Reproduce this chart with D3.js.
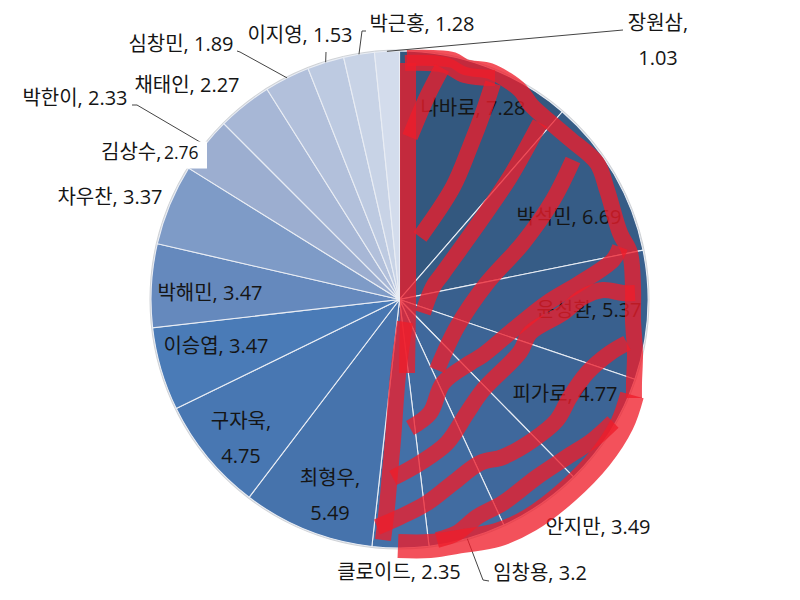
<!DOCTYPE html>
<html>
<head>
<meta charset="utf-8">
<script src="https://d3js.org/d3.v7.min.js"></script>
<style>
    html, body { margin: 0; background: #fff; }
    text { font-family: "Open Sans", "Noto Sans CJK KR", sans-serif; font-size: 20px; fill: #151515; }
</style>
</head>
<body>
<div id="chart"></div>
<script>
// Slices, clockwise from 12 o'clock
var names = ["나바로", "박석민", "윤성환", "피가로", "안지만", "임창용", "클로이드", "최형우", "구자욱",
    "이승엽", "박해민", "차우찬", "박한이", "채태인", "심창민", "이지영", "박근홍", "장원삼"];
var values = [7.28, 6.69, 5.37, 4.77, 3.49, 3.2, 2.35, 5.49, 4.75,
    3.47, 3.47, 3.37, 2.33, 2.27, 1.89, 1.53, 1.28, 1.03];

// Label that was pasted over the picture, it has no slice of its own
var pastedName = "김상수";
var pastedValue = 2.76;

var svgWidth = 800;
var svgHeight = 600;
var cx = 399.5;
var cy = 299.5;
var radius = 248.5;

// Label centres, same order as names. Labels in wrapped go on two lines
var labelSpots = [[473, 108], [569, 217], [589, 310], [565, 394], [598, 527], [540, 573], [399, 572], [330, 478], [241, 421],
    [216, 346], [210, 293], [110, 197], [75, 98], [187, 85], [181, 44], [300, 35], [422, 24], [658, 23]];
var wrapped = ["최형우", "구자욱", "장원삼"];
var lineGap = 35;

// Elbows of the leader lines, from the label end towards the slice
var leaders = {
    "임창용": [[489, 581], [483, 580]],
    "박한이": [[132, 105], [137, 105]],
    "심창민": [[237, 51], [240, 52]],
    "이지영": [[326, 52]],
    "박근홍": [[366, 31], [362, 31]],
    "장원삼": [[623, 30]]
};

// Hand drawn red marks over the right half of the picture
var scribbles = [
    [[407, 58], [433, 58], [453, 60], [465, 67], [490, 71], [507, 80], [520, 90], [532, 106], [550, 122], [570, 139], [597, 163], [607, 190], [620, 233], [630, 253], [633, 287], [633, 320], [635, 353], [634, 383], [634, 398]],
    [[405, 63], [445, 65], [465, 75], [495, 78]],
    [[408, 63], [408, 107], [408, 173], [408, 240], [408, 300], [407, 373]],
    [[405, 322], [398, 375], [393, 440], [390, 473], [387, 507], [383, 540]],
    [[442, 68], [427, 97], [410, 137]],
    [[493, 83], [483, 113], [470, 147], [453, 187], [420, 237]],
    [[540, 123], [510, 177], [483, 217], [443, 273], [433, 287], [423, 313]],
    [[573, 160], [553, 200], [523, 243], [487, 283], [457, 327], [437, 370]],
    [[620, 247], [613, 260], [580, 283], [547, 303], [513, 330], [483, 355], [470, 363], [443, 383], [430, 413], [410, 428]],
    [[635, 293], [623, 293], [603, 290], [583, 297], [563, 313], [530, 333], [520, 352], [483, 390], [467, 413], [447, 443], [420, 463], [393, 478]],
    [[627, 343], [610, 353], [587, 373], [570, 397], [557, 420], [533, 440], [503, 457], [480, 463], [453, 483], [427, 503], [400, 517], [377, 527]],
    [[613, 422], [593, 440], [567, 457], [537, 477], [503, 503], [477, 517], [457, 533], [437, 540]]
];
// The long lower arc is wider than the rest
var scribbleArc = [[632, 395], [622, 424], [600, 458], [567, 492], [530, 520], [497, 535], [463, 541], [430, 546], [398, 546]];

var svg = d3.select("#chart")
    .append("svg")
    .attr("width", svgWidth)
    .attr("height", svgHeight);

var chartGroup = svg.append("g")
    .attr("transform", `translate(${cx}, ${cy})`);

// Colour runs from navy through mid blue and then fades out
var colorScale = d3.scaleLinear()
    .domain([0, 4, 9, 10, 11, 12, 17])
    .range(["#33587f", "#3f689c", "#4a7bb7", "#6589bd", "#7e9bc7", "#9caed0", "#d3dcec"]);

var pie = d3.pie().sort(null).value(d => d)(values);
var arc = d3.arc().innerRadius(0).outerRadius(radius);
var rimArc = d3.arc().innerRadius(radius).outerRadius(radius);

// Soft grey rim
chartGroup.append("circle")
    .attr("r", radius + 0.5)
    .attr("fill", "none")
    .attr("stroke", "#cfd2d6")
    .attr("stroke-width", 2);

chartGroup.selectAll("path.slice")
    .data(pie)
    .enter()
    .append("path")
    .attr("class", "slice")
    .attr("d", arc)
    .attr("fill", (d, i) => colorScale(i))
    .attr("stroke", "#e9edf4")
    .attr("stroke-width", 1.1);

// Leader lines
var leaderLine = d3.line();
names.forEach(function (name, i) {
    if (!leaders[name]) return;
    var end = rimArc.centroid(pie[i]);
    var points = leaders[name].concat([[end[0] + cx, end[1] + cy]]);
    svg.append("path")
        .attr("d", leaderLine(points))
        .attr("fill", "none")
        .attr("stroke", "#444")
        .attr("stroke-width", 1);
});

// White patch behind the pasted label
svg.append("rect")
    .attr("x", 100)
    .attr("y", 141.5)
    .attr("width", 107)
    .attr("height", 27)
    .attr("fill", "#fff");

svg.append("text")
    .attr("x", 101)
    .attr("y", 152)
    .attr("dy", "0.35em")
    .text(pastedName + ",");

svg.append("text")
    .attr("x", 164)
    .attr("y", 153)
    .attr("dy", "0.35em")
    .style("font-size", "17.5px")
    .text(pastedValue);

// Slice labels
names.forEach(function (name, i) {
    var spot = labelSpots[i];
    if (wrapped.indexOf(name) >= 0) {
        svg.append("text")
            .attr("x", spot[0])
            .attr("y", spot[1])
            .attr("dy", "0.35em")
            .attr("text-anchor", "middle")
            .text(name + ",");
        svg.append("text")
            .attr("x", spot[0])
            .attr("y", spot[1] + lineGap)
            .attr("dy", "0.35em")
            .attr("text-anchor", "middle")
            .text(values[i]);
    } else {
        svg.append("text")
            .attr("x", spot[0])
            .attr("y", spot[1])
            .attr("dy", "0.35em")
            .attr("text-anchor", "middle")
            .text(name + ", " + values[i]);
    }
});

// Red marks go last, they sit over the text
var scribbleLine = d3.line().curve(d3.curveCatmullRom.alpha(0.5));
svg.selectAll("path.scribble")
    .data(scribbles)
    .enter()
    .append("path")
    .attr("class", "scribble")
    .attr("d", scribbleLine)
    .attr("fill", "none")
    .attr("stroke", "rgb(240, 28, 41)")
    .attr("stroke-opacity", 0.77)
    .attr("stroke-width", 16)
    .attr("stroke-linejoin", "round");

svg.append("path")
    .attr("class", "scribble")
    .attr("d", scribbleLine(scribbleArc))
    .attr("fill", "none")
    .attr("stroke", "rgb(240, 28, 41)")
    .attr("stroke-opacity", 0.77)
    .attr("stroke-width", 24)
    .attr("stroke-linejoin", "round");
</script>
</body>
</html>
